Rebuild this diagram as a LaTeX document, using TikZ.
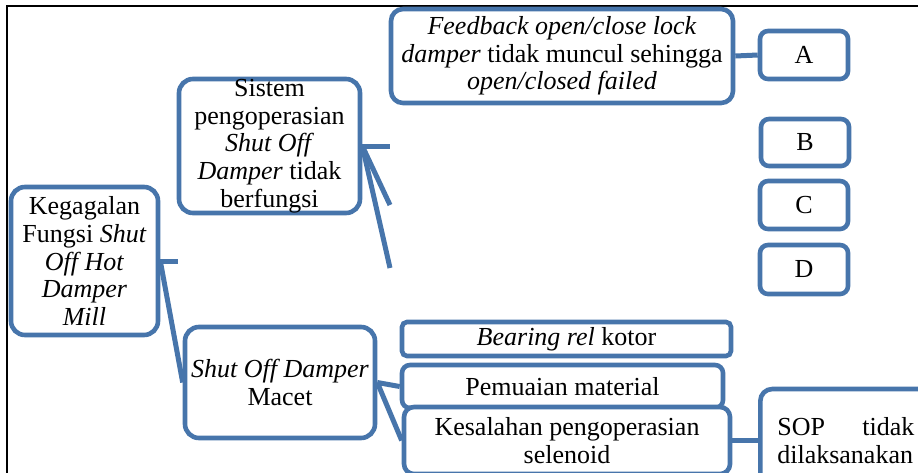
\documentclass[tikz,border=0pt]{standalone}
\usepackage{fontspec}
\setmainfont{Liberation Serif}
\definecolor{boxblue}{RGB}{71,117,171}
\begin{document}
\begin{tikzpicture}[x=1pt,y=-1pt,
  box/.style={draw=boxblue, line width=4.6pt, fill=white, rounded corners=14pt,
    inner sep=0pt, align=center, font=\fontsize{26}{27.7}\selectfont},
  link/.style={draw=boxblue, line width=5pt},
  frameline/.style={draw=black, line width=2pt}]
\useasboundingbox (0,0) rectangle (918,472);
\begin{scope}
\clip (0,0) rectangle (918,472);
% outer cell border (top and left)
\coordinate (fTL) at (7,5.5);
\coordinate (fTR) at (930,5.5);
\coordinate (fBL) at (7,480);
\draw[frameline] (fTR) -- (fTL) -- (fBL);

% level 0
\node[box, minimum width=147pt, minimum height=148pt] (root) at (84.5,261)
  {Kegagalan\\ Fungsi \textit{Shut}\\ \textit{Off Hot}\\ \textit{Damper}\\ \textit{Mill}};

% level 1
\node[box, minimum width=181pt, minimum height=134pt] (sistem) at (269.5,146)
  {Sistem\\ pengoperasian\\ \textit{Shut Off}\\ \textit{Damper} tidak\\ berfungsi};
\node[box, minimum width=190pt, minimum height=111pt] (macet) at (280,382.5)
  {\textit{Shut Off Damper}\\ Macet};

% level 2
\node[box, rounded corners=12pt, minimum width=342pt, minimum height=94pt] (feedback) at (562,56)
  {\textit{Feedback open/close lock}\\ \textit{damper} tidak muncul sehingga\\ \textit{open/closed failed}};
\node[box, rounded corners=5pt, minimum width=329pt, minimum height=34pt] (bearing) at (566.5,339)
  {\textit{Bearing rel} kotor};
\node[box, rounded corners=8pt, minimum width=321pt, minimum height=43pt] (pemuaian) at (562.5,386.5)
  {Pemuaian material};
\node[box, rounded corners=10pt, minimum width=326pt, minimum height=67pt] (kesalahan) at (567,440.5)
  {Kesalahan pengoperasian\\ selenoid};

% level 3
\node[box, rounded corners=8pt, minimum width=88pt, minimum height=48pt] (a) at (804,55) {A};
\node[box, rounded corners=8pt, minimum width=88pt, minimum height=47pt] (b) at (805,142.5) {B};
\node[box, rounded corners=8pt, minimum width=88pt, minimum height=48pt] (c) at (804,205) {C};
\node[box, rounded corners=8pt, minimum width=88pt, minimum height=49pt] (d) at (804,269.5) {D};
\node[box, rounded corners=12pt, align=left, text width=137pt, inner xsep=17pt,
  minimum height=103pt, anchor=west] (sop) at (758,440.5)
  {SOP\hfill tidak\\ dilaksanakan};

% connectors
\coordinate (rootstub) at (178,261);
\draw[link] (root.east) -- (rootstub);
\draw[link] (root.east) -- (macet.west);

\coordinate (sisA) at (390,146);
\coordinate (sisB) at (390,205);
\coordinate (sisC) at (390,268);
\draw[link] (sistem.east) -- (sisA);
\draw[link] (sistem.east) -- (sisB);
\draw[link] (sistem.east) -- (sisC);

\draw[link] (feedback.east) -- (a.west);
\draw[link] (macet.east) -- (pemuaian.west);
\draw[link] (macet.east) -- (kesalahan.west);
\draw[link] (kesalahan.east) -- (sop.west);
\end{scope}
\end{tikzpicture}
\end{document}
